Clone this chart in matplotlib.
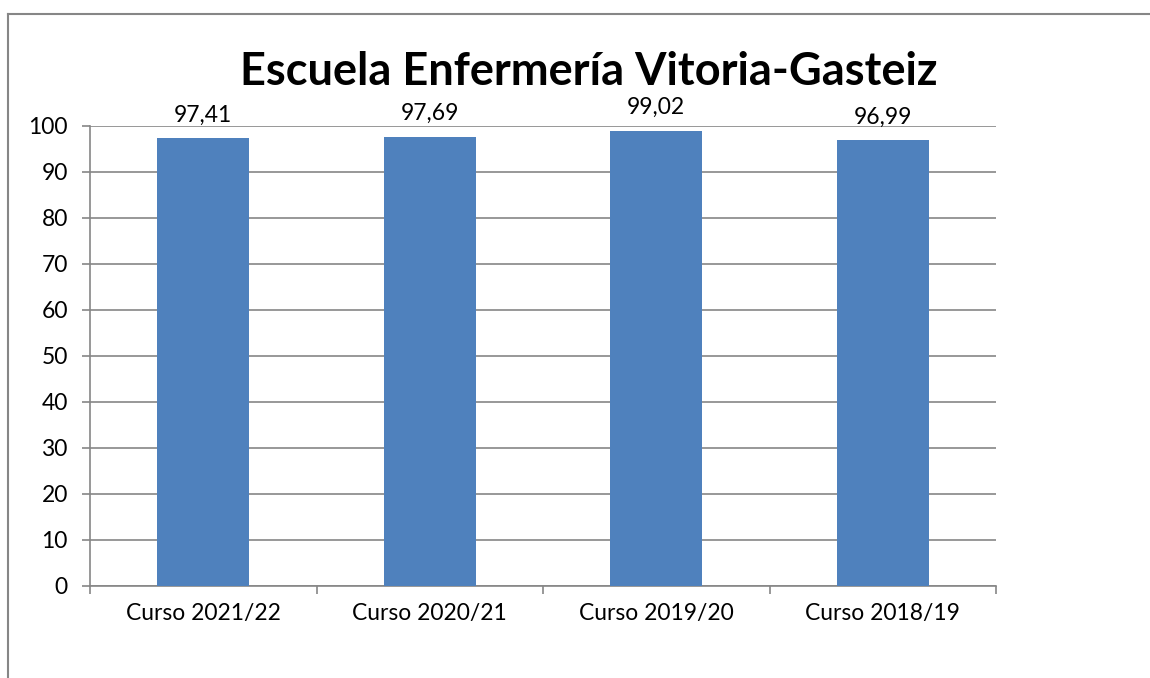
import matplotlib
matplotlib.use('Agg')
import matplotlib.pyplot as plt
from matplotlib.lines import Line2D

# Données
cursos = ['Curso 2021/22', 'Curso 2020/21', 'Curso 2019/20', 'Curso 2018/19']
valores = [97.41, 97.69, 99.02, 96.99]
etiquetas = ['97,41', '97,69', '99,02', '96,99']
ticks_y = [0, 10, 20, 30, 40, 50, 60, 70, 80, 90, 100]

plt.rcParams['font.family'] = ['Lato', 'DejaVu Sans']

fig = plt.figure(figsize=(11.5, 6.78), dpi=100)
ax = fig.add_axes([90 / 1150, 1 - 586 / 678, 906 / 1150, 460 / 678])

# Cadre du graphique
gris = '#868686'
fig.add_artist(Line2D([8 / 1150, 1.0], [1 - 14 / 678] * 2, color=gris, lw=1.5,
                      transform=fig.transFigure))
fig.add_artist(Line2D([8 / 1150] * 2, [0, 1 - 14 / 678], color=gris, lw=1.5,
                      transform=fig.transFigure))

x = list(range(len(cursos)))
barres = ax.bar(x, valores, width=0.406, color='#4F81BD', zorder=3)

for xi, v, lab in zip(x, valores, etiquetas):
    ax.annotate(lab, (xi, v), xytext=(0, 9), textcoords='offset points',
                ha='center', va='bottom', fontsize=16.5)

ax.set_xlim(-0.5, len(cursos) - 0.5)
ax.set_ylim(0, 100)
ax.set_yticks(ticks_y)
ax.set_yticklabels([str(t) for t in ticks_y], fontsize=16.5)
ax.set_xticks(x)
ax.set_xticklabels(cursos, fontsize=16.5)
ax.set_xticks([i - 0.5 for i in range(len(cursos) + 1)], minor=True)
ax.tick_params(axis='x', which='major', length=0, pad=12)
ax.tick_params(axis='x', which='minor', length=6, color=gris, width=1.2, direction='out')
ax.tick_params(axis='y', length=6, color=gris, width=1.2, pad=10)

ax.grid(axis='y', color=gris, lw=1.2, zorder=0)
for s in ['top', 'right']:
    ax.spines[s].set_visible(False)
for s in ['left', 'bottom']:
    ax.spines[s].set_color(gris)
    ax.spines[s].set_linewidth(1.2)

fig.text(589 / 1150, 1 - 72 / 678, 'Escuela Enfermería Vitoria-Gasteiz',
         ha='center', va='center', fontsize=32.5, fontweight='bold')

fig.savefig('out.png', dpi=100)
